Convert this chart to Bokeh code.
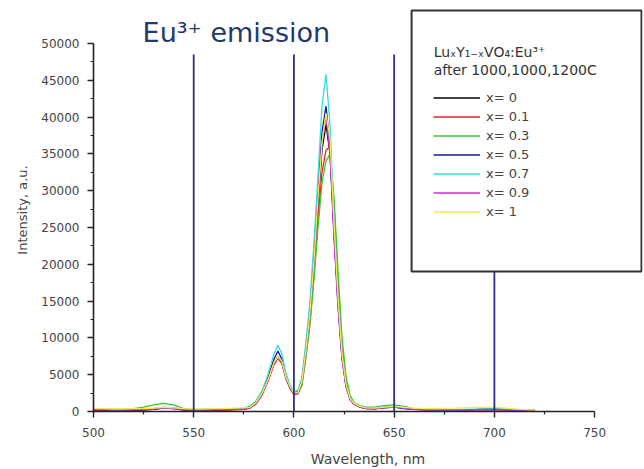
from bokeh.plotting import figure
from bokeh.models import Range1d, Legend, LegendItem, FixedTicker, Label, BoxAnnotation
from bokeh.embed import file_html
from bokeh.resources import INLINE

# ---------------- data ----------------
wavelength = [500, 505, 510, 515, 520, 525, 530, 535, 540, 545, 550, 555, 560, 565, 570, 575,
              578, 581, 584, 587, 590,
              592, 594, 596, 598, 600, 602, 604, 606, 608, 610, 612, 614, 616, 618, 620, 622, 624, 626, 628, 630,
              633, 636, 640, 645, 650, 655, 660, 665, 670,
              680, 690, 700, 710, 720]

int_x0 = [200, 200, 150, 150, 200, 200, 300, 450, 400, 200, 150, 150, 200, 200, 250, 300,
          500, 1100, 2300, 4200, 6500,
          7500, 6600, 4500, 3200, 2300, 2500, 4000, 8200, 13000, 20000, 28000, 35500, 39000, 35000, 24500, 15000, 7500, 3500, 1700, 1000,
          600, 400, 350, 500, 600, 400, 300, 250, 200,
          200, 250, 300, 200, 150]

int_x01 = [200, 200, 150, 200, 250, 300, 300, 500, 450, 300, 150, 150, 200, 200, 250, 300,
           450, 1000, 2200, 4100, 6300,
           7200, 6500, 4600, 3300, 2300, 2400, 3600, 7500, 12000, 18500, 26000, 32500, 35500, 36000, 28000, 17500, 9000, 4200, 2000, 1100,
           700, 450, 400, 550, 650, 450, 300, 250, 200,
           200, 250, 300, 250, 150]

int_x03 = [350, 350, 300, 300, 400, 600, 900, 1100, 900, 400, 300, 300, 350, 300, 350, 450,
           700, 1400, 2700, 4600, 6600,
           7300, 6700, 4900, 3500, 2500, 2500, 3600, 7500, 12000, 18000, 25000, 31000, 34000, 35000, 29000, 19000, 10000, 4700, 2200, 1200,
           800, 600, 600, 800, 900, 700, 400, 300, 250,
           250, 300, 350, 250, 200]

int_x05 = [250, 250, 200, 200, 250, 250, 350, 500, 450, 250, 200, 200, 250, 250, 300, 350,
           550, 1200, 2500, 4600, 7100,
           8200, 7100, 4800, 3400, 2500, 2700, 4300, 8800, 14000, 21500, 30000, 38000, 41500, 36000, 24000, 14500, 7300, 3400, 1700, 1000,
           650, 450, 400, 550, 650, 450, 300, 250, 200,
           200, 250, 300, 200, 150]

int_x07 = [300, 300, 250, 250, 300, 300, 400, 600, 500, 300, 250, 250, 300, 300, 350, 400,
           600, 1300, 2700, 5000, 7800,
           9000, 7800, 5200, 3600, 2700, 2900, 4600, 9500, 15000, 23000, 32000, 41500, 45800, 39000, 26000, 15500, 7800, 3600, 1800, 1100,
           700, 500, 450, 600, 700, 500, 350, 300, 250,
           250, 300, 350, 250, 200]

int_x09 = [250, 250, 200, 200, 250, 250, 350, 500, 400, 250, 200, 200, 250, 250, 300, 350,
           500, 1100, 2300, 4200, 6500,
           7500, 6700, 4600, 3300, 2400, 2600, 4100, 8500, 13500, 20500, 29000, 36500, 40000, 35000, 23500, 14000, 7000, 3300, 1600, 1000,
           600, 400, 350, 500, 600, 450, 300, 250, 200,
           200, 250, 300, 200, 150]

int_x1 = [400, 400, 350, 350, 400, 400, 450, 550, 500, 400, 350, 350, 400, 400, 450, 500,
          550, 1200, 2400, 4300, 6600,
          7500, 6800, 4700, 3400, 2500, 2600, 4100, 8400, 13500, 20500, 29000, 36500, 40500, 37000, 25500, 15500, 7800, 3700, 1800, 1100,
          700, 500, 450, 600, 700, 550, 450, 400, 400,
          450, 550, 600, 350, 200]

series_labels = ["x= 0", "x= 0.1", "x= 0.3", "x= 0.5", "x= 0.7", "x= 0.9", "x= 1"]
series_values = [int_x0, int_x01, int_x03, int_x05, int_x07, int_x09, int_x1]
series_colors = ["#000000", "#ee1c24", "#33cc33", "#1a1a8c", "#33dddd", "#cc33cc", "#f2ec50"]

marker_wavelengths = [550, 600, 650, 700]
marker_top = 48500

x_ticks = [500, 550, 600, 650, 700, 750]
x_minor = [525, 575, 625, 675, 725]
y_ticks = [0, 5000, 10000, 15000, 20000, 25000, 30000, 35000, 40000, 45000, 50000]
y_minor = [2500, 7500, 12500, 17500, 22500, 27500, 32500, 37500, 42500, 47500]

legend_title_1 = "Lu\u2093Y\u2081\u208b\u2093VO\u2084:Eu\u00b3\u207a"
legend_title_2 = "after 1000,1000,1200C"
chart_title = "Eu\u00b3\u207a emission"

# ---------------- figure ----------------
FONT = "DejaVu Sans"
X_END = 773.9      # frame extends right of the axis end (legend area)
Y_END = 54750      # frame extends above the axis end (title / legend area)

p = figure(width=644, height=469, output_backend="svg", toolbar_location=None,
           x_range=Range1d(500, X_END), y_range=Range1d(0, Y_END),
           min_border_left=93, min_border_right=2, min_border_top=8, min_border_bottom=58,
           x_axis_label="Wavelength, nm", y_axis_label="Intensity, a.u.")

p.outline_line_color = None
p.xgrid.visible = False
p.ygrid.visible = False
p.background_fill_color = "white"
p.border_fill_color = "white"

for ax in (p.xaxis[0], p.yaxis[0]):
    ax.axis_line_color = "#222222"
    ax.axis_line_width = 1.6
    ax.major_tick_line_color = "#222222"
    ax.minor_tick_line_color = "#222222"
    ax.major_tick_line_width = 1.4
    ax.minor_tick_line_width = 1.2
    ax.major_tick_in = 0
    ax.major_tick_out = 6
    ax.minor_tick_in = 0
    ax.minor_tick_out = 3
    ax.major_label_text_font = FONT
    ax.major_label_text_font_size = "12px"
    ax.major_label_text_color = "#444444"
    ax.axis_label_text_font = FONT
    ax.axis_label_text_font_style = "normal"
    ax.axis_label_text_color = "#444444"

p.xaxis[0].ticker = FixedTicker(ticks=x_ticks, minor_ticks=x_minor)
p.yaxis[0].ticker = FixedTicker(ticks=y_ticks, minor_ticks=y_minor)
p.xaxis[0].bounds = (x_ticks[0], x_ticks[-1])
p.yaxis[0].bounds = (y_ticks[0], y_ticks[-1])
p.xaxis[0].major_label_standoff = 10
p.yaxis[0].major_label_standoff = 8
p.xaxis[0].axis_label_text_font_size = "14px"
p.yaxis[0].axis_label_text_font_size = "13px"
p.xaxis[0].axis_label_standoff = 11
p.yaxis[0].axis_label_standoff = 8

items = []
for lbl, col, ys in zip(series_labels, series_colors, series_values):
    r = p.line(wavelength, ys, line_color=col, line_width=1.3)
    items.append(LegendItem(label=lbl, renderers=[r]))

p.segment(x0=marker_wavelengths, y0=[0] * len(marker_wavelengths),
          x1=marker_wavelengths, y1=[marker_top] * len(marker_wavelengths),
          line_color="#2e2e8a", line_width=1.8)

# chart title
p.add_layout(Label(x=524.5, y=51500, text=chart_title, text_font=FONT,
                   text_font_size="27px", text_color="#22386e",
                   text_baseline="alphabetic", text_align="left"))

# legend frame + title
p.add_layout(BoxAnnotation(left=658.7, right=773.4, bottom=19020, top=54480,
                           fill_color="white", fill_alpha=1.0,
                           line_color="#333333", line_width=2, line_alpha=1.0))
p.add_layout(Label(x=669.7, y=48780, text=legend_title_1, text_font=FONT,
                   text_font_size="14px", text_color="#333333",
                   text_baseline="middle", text_align="left"))
p.add_layout(Label(x=669.7, y=46330, text=legend_title_2, text_font=FONT,
                   text_font_size="14px", text_color="#333333",
                   text_baseline="middle", text_align="left"))

legend = Legend(items=items, location=(340, 190),
                label_text_font=FONT, label_text_font_size="13px", label_text_color="#444444",
                glyph_width=47, glyph_height=19, label_height=19,
                label_standoff=6, spacing=0, padding=0, margin=0,
                border_line_color=None, background_fill_alpha=0.0)
p.add_layout(legend)

open("out.html", "w").write(file_html(p, INLINE))
